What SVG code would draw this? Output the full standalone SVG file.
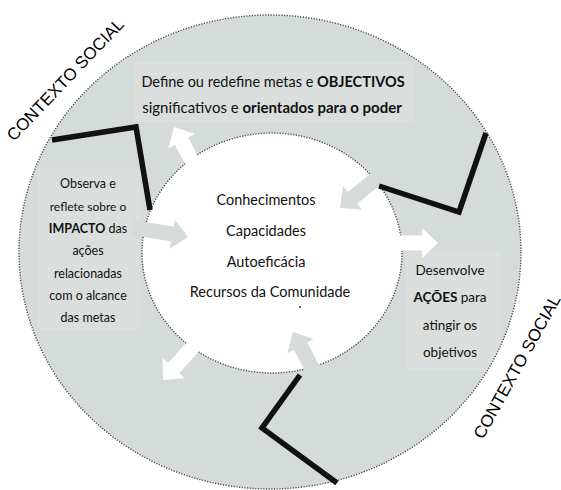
<svg xmlns="http://www.w3.org/2000/svg" width="561" height="490" viewBox="0 0 561 490">
<style>
.dot{fill:none;stroke:#4a4a4a;stroke-width:1.4;stroke-dasharray:1.2 1.5}
.ring{fill:#d5dbd9}
.tbg{fill:#dadfdd}
.zig{fill:none;stroke:#111;stroke-width:5.5;stroke-linejoin:miter;stroke-linecap:butt}
.t{font-family:Lato,"Open Sans","Liberation Sans",sans-serif;fill:#111;text-anchor:middle}
.b{font-weight:bold}
.ctx{font-family:"Liberation Sans",Arial,sans-serif;font-size:17px;fill:#000}
.wa{fill:#fff}
.ga{fill:#d5dbd9}
</style>
<defs>
<path id="arr" d="M0,0 L-16,-15 L-16,-7.5 L-56,-7.5 L-56,7.5 L-16,7.5 L-16,15 Z"/>
<clipPath id="outer"><ellipse cx="270" cy="252" rx="251" ry="237"/></clipPath>
</defs>
<g id="ring">
<ellipse class="ring" cx="270" cy="252" rx="251" ry="237"/>
<g clip-path="url(#outer)">
<rect class="tbg" x="133" y="62" width="280" height="60"/>
<rect class="tbg" x="38" y="168" width="102" height="162"/>
<rect class="tbg" x="405" y="252" width="95" height="118"/>
</g>
<ellipse class="dot" cx="270" cy="252" rx="251" ry="237"/>
<ellipse fill="#fff" cx="272" cy="253" rx="130" ry="120"/>
<ellipse class="dot" cx="272" cy="253" rx="130" ry="120"/>
<circle cx="300" cy="307" r="1" fill="#333"/>
</g>
<g id="connectors">
<use href="#arr" class="wa" transform="translate(174,127) rotate(-118)"/>
<use href="#arr" class="wa" transform="translate(438,243) rotate(0)"/>
<use href="#arr" class="wa" transform="translate(163,380) rotate(132)"/>
<use href="#arr" class="ga" transform="translate(340,208) rotate(141)"/>
<use href="#arr" class="ga" transform="translate(188,237) rotate(10)"/>
<use href="#arr" class="ga" transform="translate(293,332) rotate(-118)"/>
<polyline class="zig" points="52,140 136,127 150,210"/>
<polyline class="zig" points="379,186 459,212 486,133"/>
<polyline class="zig" points="300,375 262,428 337,483"/>
</g>
<g id="node-top">
<text class="t" x="273" y="87" font-size="14.5">Define ou redefine metas e <tspan class="b">OBJECTIVOS</tspan></text>
<text class="t" x="272" y="113" font-size="15">significativos e <tspan class="b">orientados para o poder</tspan></text>
</g>
<g id="node-left">
<text class="t" x="88" y="188" font-size="12.5">Observa e</text>
<text class="t" x="88" y="211" font-size="12">reflete sobre o</text>
<text class="t" x="88" y="233" font-size="12.5"><tspan class="b">IMPACTO</tspan> das</text>
<text class="t" x="88" y="255" font-size="12.5">ações</text>
<text class="t" x="88" y="278" font-size="12.5">relacionadas</text>
<text class="t" x="88" y="300" font-size="12.5">com o alcance</text>
<text class="t" x="88" y="322" font-size="12.5">das metas</text>
</g>
<g id="node-center">
<text class="t" x="266" y="205" font-size="14.5">Conhecimentos</text>
<text class="t" x="266" y="236" font-size="14.5">Capacidades</text>
<text class="t" x="266" y="267" font-size="14.5">Autoeficácia</text>
<text class="t" x="270" y="297" font-size="14.5">Recursos da Comunidade</text>
</g>
<g id="node-right">
<text class="t" x="450" y="275" font-size="13.5">Desenvolve</text>
<text class="t" x="450" y="302" font-size="13.5"><tspan class="b">AÇÕES</tspan> para</text>
<text class="t" x="450" y="330" font-size="13.5">atingir os</text>
<text class="t" x="450" y="357" font-size="13.5">objetivos</text>
</g>
<g id="context-labels">
<text class="ctx" transform="translate(14,142) rotate(-46.5)">CONTEXTO SOCIAL</text>
<text class="ctx" transform="translate(483,440) rotate(-61)">CONTEXTO SOCIAL</text>
</g>
</svg>
